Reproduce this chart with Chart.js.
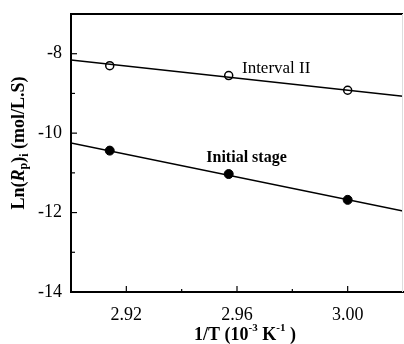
<!DOCTYPE html>
<html>
<head>
<meta charset="utf-8">
<script src="https://cdn.jsdelivr.net/npm/chart.js@4/dist/chart.umd.min.js"></script>
<style>
  html, body { margin: 0; padding: 0; background: #fff; }
  #wrap { width: 404px; height: 344px; }
</style>
</head>
<body>
<div id="wrap"><canvas id="c" width="404" height="344"></canvas></div>
<script>
// Datos
const invT = [2.914, 2.957, 3.000];
const intervalII = [-8.30, -8.55, -8.92];
const initialStage = [-10.44, -11.03, -11.68];

// Rectas de ajuste (extremos en 2.90 y 3.02)
const fitX = [2.90, 3.02];
const fitIntervalII = [-8.16, -9.07];
const fitInitial = [-10.25, -11.96];

const xTickLabels = ['2.92', '2.96', '3.00'];
const yTickLabels = ['-8', '-10', '-12', '-14'];

const SERIF = '"Liberation Serif", "DejaVu Serif", serif';

function pts(xs, ys) {
  return xs.map((x, i) => ({ x: x, y: ys[i] }));
}

// Plugin: ticks hacia adentro, borde superior, etiquetas y titulos con sub/superindices
const decoPlugin = {
  id: 'deco',
  afterDraw(chart) {
    const ctx = chart.ctx;
    const a = chart.chartArea;
    const xs = chart.scales.x;
    const ys = chart.scales.y;
    ctx.save();

    // borde superior y derecho (muy tenue)
    ctx.strokeStyle = '#000';
    ctx.lineWidth = 2;
    ctx.beginPath();
    ctx.moveTo(a.left, a.top);
    ctx.lineTo(a.right, a.top);
    ctx.stroke();
    ctx.strokeStyle = '#ddd';
    ctx.lineWidth = 1;
    ctx.beginPath();
    ctx.moveTo(a.right - 0.5, a.top);
    ctx.lineTo(a.right - 0.5, a.bottom);
    ctx.stroke();

    // ticks hacia adentro
    ctx.strokeStyle = '#000';
    ctx.lineWidth = 1.2;
    xs.ticks.forEach(t => {
      const px = xs.getPixelForValue(t.value);
      if (px <= a.left + 1 || px >= a.right - 1) return;
      const major = t.label !== '';
      ctx.beginPath();
      ctx.moveTo(px, a.bottom);
      ctx.lineTo(px, a.bottom - (major ? 6 : 3));
      ctx.stroke();
    });
    ys.ticks.forEach(t => {
      const py = ys.getPixelForValue(t.value);
      if (py <= a.top + 1 || py >= a.bottom - 1) return;
      const major = t.label !== '';
      ctx.beginPath();
      ctx.moveTo(a.left, py);
      ctx.lineTo(a.left + (major ? 6 : 4), py);
      ctx.stroke();
    });

    // etiquetas de series
    ctx.fillStyle = '#000';
    ctx.textBaseline = 'middle';
    ctx.textAlign = 'left';
    ctx.font = '17px ' + SERIF;
    ctx.fillText('Interval II', xs.getPixelForValue(2.9618), ys.getPixelForValue(-8.38));
    ctx.font = 'bold 16px ' + SERIF;
    ctx.fillText('Initial stage', xs.getPixelForValue(2.9489), ys.getPixelForValue(-10.63));

    // titulo eje X
    const xParts = [
      { t: '1/T (10', f: 'bold 18px ' + SERIF, dy: 0 },
      { t: '-3', f: 'bold 11px ' + SERIF, dy: -7 },
      { t: ' K', f: 'bold 18px ' + SERIF, dy: 0 },
      { t: '-1', f: 'bold 11px ' + SERIF, dy: -7 },
      { t: ' )', f: 'bold 18px ' + SERIF, dy: 0 }
    ];
    drawParts(ctx, xParts, 245, 335);

    // titulo eje Y (rotado)
    const yParts = [
      { t: 'Ln(', f: 'bold 18px ' + SERIF, dy: 0 },
      { t: 'R', f: 'bold italic 18px ' + SERIF, dy: 0 },
      { t: 'p', f: 'bold 12px ' + SERIF, dy: 5 },
      { t: ')', f: 'bold 18px ' + SERIF, dy: 0 },
      { t: 'i', f: 'bold 12px ' + SERIF, dy: 6 },
      { t: ' (mol/L.S)', f: 'bold 18px ' + SERIF, dy: 0 }
    ];
    ctx.translate(19, 143);
    ctx.rotate(-Math.PI / 2);
    drawParts(ctx, yParts, 0, 0);

    ctx.restore();
  }
};

function drawParts(ctx, parts, cx, cy) {
  let w = 0;
  parts.forEach(p => { ctx.font = p.f; w += ctx.measureText(p.t).width; });
  let x = cx - w / 2;
  ctx.textAlign = 'left';
  ctx.textBaseline = 'middle';
  ctx.fillStyle = '#000';
  parts.forEach(p => {
    ctx.font = p.f;
    ctx.fillText(p.t, x, cy + p.dy);
    x += ctx.measureText(p.t).width;
  });
}

new Chart(document.getElementById('c'), {
  type: 'scatter',
  data: {
    datasets: [
      {
        label: 'fit II',
        type: 'line',
        data: pts(fitX, fitIntervalII),
        borderColor: '#000',
        borderWidth: 1.5,
        pointRadius: 0,
        fill: false
      },
      {
        label: 'fit initial',
        type: 'line',
        data: pts(fitX, fitInitial),
        borderColor: '#000',
        borderWidth: 1.5,
        pointRadius: 0,
        fill: false
      },
      {
        label: 'Interval II',
        data: pts(invT, intervalII),
        pointRadius: 4,
        pointBackgroundColor: '#fff',
        pointBorderColor: '#000',
        pointBorderWidth: 1.5
      },
      {
        label: 'Initial stage',
        data: pts(invT, initialStage),
        pointRadius: 4.5,
        pointBackgroundColor: '#000',
        pointBorderColor: '#000',
        pointBorderWidth: 1
      }
    ]
  },
  options: {
    responsive: false,
    animation: false,
    devicePixelRatio: 1,
    layout: { autoPadding: false, padding: { left: 0, right: 1, top: 14, bottom: 0 } },
    plugins: {
      legend: { display: false },
      tooltip: { enabled: false }
    },
    scales: {
      x: {
        type: 'linear',
        min: 2.90,
        max: 3.02,
        afterFit: s => { s.height = 52; s.paddingRight = 0; s.paddingLeft = 0; },
        grid: { display: false },
        border: { display: true, color: '#000', width: 2 },
        ticks: {
          stepSize: 0.02,
          padding: 4,
          maxRotation: 0,
          color: '#000',
          font: { family: SERIF, size: 18 },
          callback: v => {
            const s = v.toFixed(2);
            return xTickLabels.includes(s) ? s : '';
          }
        }
      },
      y: {
        type: 'linear',
        min: -14,
        max: -7,
        afterFit: s => { s.width = 71; s.paddingTop = 0; s.paddingBottom = 0; },
        grid: { display: false },
        border: { display: true, color: '#000', width: 2 },
        ticks: {
          stepSize: 1,
          padding: 1,
          color: '#000',
          font: { family: SERIF, size: 18 },
          callback: v => {
            const s = String(Math.round(v));
            return yTickLabels.includes(s) ? s : '';
          }
        }
      }
    }
  },
  plugins: [decoPlugin]
});
</script>
</body>
</html>
